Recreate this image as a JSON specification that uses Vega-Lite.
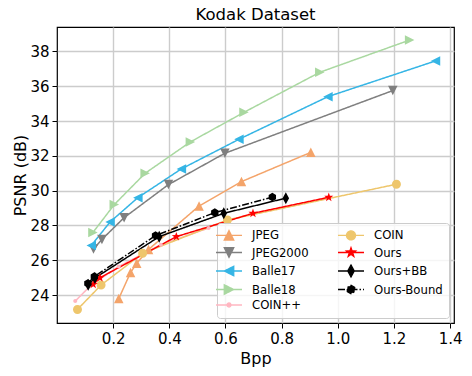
{
  "$schema": "https://vega.github.io/schema/vega-lite/v6.json",
  "autosize": "none",
  "width": 397,
  "height": 296,
  "padding": {"left": 57, "top": 27, "right": 18, "bottom": 53},
  "background": "white",
  "title": {"text": "Kodak Dataset", "fontSize": 16.5, "fontWeight": "normal", "font": "DejaVu Sans", "color": "black", "anchor": "middle", "offset": 4},
  "config": {
    "font": "DejaVu Sans",
    "view": {"stroke": "black", "strokeWidth": 1.2},
    "axis": {"domain": false, "grid": true, "gridColor": "#cccccc", "gridWidth": 1.4, "tickColor": "black", "tickSize": 5, "labelColor": "black", "titleColor": "black", "labelFontSize": 15, "titleFontSize": 16, "titleFontWeight": "normal", "labelPadding": 3, "labelFont": "DejaVu Sans", "titleFont": "DejaVu Sans"}
  },
  "data": {"values": [
    {"method": "JPEG", "bpp": 0.220, "psnr": 23.8},
    {"method": "JPEG", "bpp": 0.262, "psnr": 25.3},
    {"method": "JPEG", "bpp": 0.284, "psnr": 25.83},
    {"method": "JPEG", "bpp": 0.326, "psnr": 26.62},
    {"method": "JPEG", "bpp": 0.506, "psnr": 29.12},
    {"method": "JPEG", "bpp": 0.657, "psnr": 30.52},
    {"method": "JPEG", "bpp": 0.904, "psnr": 32.2},
    {"method": "JPEG2000", "bpp": 0.130, "psnr": 26.65},
    {"method": "JPEG2000", "bpp": 0.160, "psnr": 27.2},
    {"method": "JPEG2000", "bpp": 0.239, "psnr": 28.45},
    {"method": "JPEG2000", "bpp": 0.397, "psnr": 30.35},
    {"method": "JPEG2000", "bpp": 0.598, "psnr": 32.15},
    {"method": "JPEG2000", "bpp": 1.196, "psnr": 35.75},
    {"method": "Balle17", "bpp": 0.122, "psnr": 26.85},
    {"method": "Balle17", "bpp": 0.189, "psnr": 28.2},
    {"method": "Balle17", "bpp": 0.288, "psnr": 29.6},
    {"method": "Balle17", "bpp": 0.443, "psnr": 31.25},
    {"method": "Balle17", "bpp": 0.648, "psnr": 32.95},
    {"method": "Balle17", "bpp": 0.965, "psnr": 35.4},
    {"method": "Balle17", "bpp": 1.348, "psnr": 37.45},
    {"method": "Balle18", "bpp": 0.128, "psnr": 27.6},
    {"method": "Balle18", "bpp": 0.204, "psnr": 29.2},
    {"method": "Balle18", "bpp": 0.314, "psnr": 31.0},
    {"method": "Balle18", "bpp": 0.475, "psnr": 32.8},
    {"method": "Balle18", "bpp": 0.666, "psnr": 34.5},
    {"method": "Balle18", "bpp": 0.936, "psnr": 36.8},
    {"method": "Balle18", "bpp": 1.256, "psnr": 38.65},
    {"method": "COIN++", "bpp": 0.065, "psnr": 23.66},
    {"method": "COIN++", "bpp": 0.12, "psnr": 24.55},
    {"method": "COIN++", "bpp": 0.22, "psnr": 25.65},
    {"method": "COIN++", "bpp": 0.37, "psnr": 26.9},
    {"method": "COIN++", "bpp": 0.54, "psnr": 27.85},
    {"method": "COIN", "bpp": 0.073, "psnr": 23.18},
    {"method": "COIN", "bpp": 0.157, "psnr": 24.58},
    {"method": "COIN", "bpp": 0.305, "psnr": 26.4},
    {"method": "COIN", "bpp": 0.607, "psnr": 28.32},
    {"method": "COIN", "bpp": 1.209, "psnr": 30.37},
    {"method": "Ours", "bpp": 0.129, "psnr": 24.62},
    {"method": "Ours", "bpp": 0.153, "psnr": 25.0},
    {"method": "Ours", "bpp": 0.425, "psnr": 27.36},
    {"method": "Ours", "bpp": 0.698, "psnr": 28.7},
    {"method": "Ours", "bpp": 0.968, "psnr": 29.62},
    {"method": "Ours+BB", "bpp": 0.111, "psnr": 24.6},
    {"method": "Ours+BB", "bpp": 0.135, "psnr": 24.98},
    {"method": "Ours+BB", "bpp": 0.364, "psnr": 27.36},
    {"method": "Ours+BB", "bpp": 0.594, "psnr": 28.7},
    {"method": "Ours+BB", "bpp": 0.815, "psnr": 29.57},
    {"method": "Ours-Bound", "bpp": 0.110, "psnr": 24.67},
    {"method": "Ours-Bound", "bpp": 0.133, "psnr": 25.07},
    {"method": "Ours-Bound", "bpp": 0.351, "psnr": 27.42},
    {"method": "Ours-Bound", "bpp": 0.562, "psnr": 28.74},
    {"method": "Ours-Bound", "bpp": 0.767, "psnr": 29.63}
  ]},
  "encoding": {
    "x": {"field": "bpp", "type": "quantitative", "title": "Bpp", "scale": {"domain": [0.0, 1.414], "nice": false, "zero": false}, "axis": {"values": [0.2, 0.4, 0.6, 0.8, 1.0, 1.2, 1.4], "format": ".1f", "titlePadding": 4}},
    "y": {"field": "psnr", "type": "quantitative", "title": "PSNR (dB)", "scale": {"domain": [22.4, 39.4], "nice": false, "zero": false}, "axis": {"values": [24, 26, 28, 30, 32, 34, 36, 38], "titlePadding": 1}},
    "color": {"field": "method", "type": "nominal", "scale": {
      "domain": ["JPEG", "JPEG2000", "Balle17", "Balle18", "COIN++", "COIN", "Ours", "Ours+BB", "Ours-Bound"],
      "range": ["#f4a46a", "#7f7f7f", "#35b5e5", "#a9d8a0", "#ffb6c1", "#eec66c", "#ff0000", "#000000", "#000000"]},
      "legend": {
          "title": null, "orient": "none", "legendX": 160, "legendY": 196, "columns": 2,
          "symbolSize": 100, "labelFontSize": 11.7, "labelFont": "DejaVu Sans", "labelColor": "black",
          "labelOffset": 17, "rowPadding": 1.5, "columnPadding": 26, "padding": 6,
          "fillColor": "rgba(255,255,255,0.8)", "strokeColor": "#cccccc", "cornerRadius": 3,
          "symbolStrokeWidth": 1.3,
          "encode": {"symbols": {"update": {
            "fill": {"scale": "color", "field": "value"},
            "stroke": {"scale": "color", "field": "value"},
            "strokeWidth": {"value": 1.3},
            "opacity": {"value": 1},
            "strokeDash": [{"test": "datum.value === 'Ours-Bound'", "value": [5, 2, 1.5, 1.5]}, {"value": [1, 0]}]
          }}}
      }}
  },
  "layer": [
    {
      "mark": {"type": "line", "strokeWidth": 1.5},
      "encoding": {
        "strokeDash": {"field": "method", "type": "nominal", "legend": null, "scale": {
          "domain": ["JPEG", "JPEG2000", "Balle17", "Balle18", "COIN++", "COIN", "Ours", "Ours+BB", "Ours-Bound"],
          "range": [[1, 0], [1, 0], [1, 0], [1, 0], [1, 0], [1, 0], [1, 0], [1, 0], [7, 2, 1.5, 2]]}}
      }
    },
    {
      "mark": {"type": "point", "filled": true, "opacity": 1, "size": 100},
      "encoding": {
        "shape": {"field": "method", "type": "nominal", "scale": {
          "domain": ["JPEG", "JPEG2000", "Balle17", "Balle18", "COIN++", "COIN", "Ours", "Ours+BB", "Ours-Bound"],
          "range": [
            "M-2.6,0L2.6,0M0,-0.95L0.95,0.95L-0.95,0.95Z",
            "M-2.6,0L2.6,0M0,0.95L0.95,-0.95L-0.95,-0.95Z",
            "M-2.6,0L2.6,0M-0.95,0L0.95,-0.95L0.95,0.95Z",
            "M-2.6,0L2.6,0M0.95,0L-0.95,-0.95L-0.95,0.95Z",
            "M-2.6,0L2.6,0M0.4,0A0.4,0.4 0 1,1 -0.4,0A0.4,0.4 0 1,1 0.4,0Z",
            "M-2.6,0L2.6,0M0.9,0A0.9,0.9 0 1,1 -0.9,0A0.9,0.9 0 1,1 0.9,0Z",
            "M-2.6,0L2.6,0M0,-0.95L0.223,-0.31L0.904,-0.294L0.361,0.118L0.558,0.768L0,0.38L-0.558,0.768L-0.361,0.118L-0.904,-0.294L-0.223,-0.31Z",
            "M-2.6,0L2.6,0M0,-1.2L0.65,0L0,1.2L-0.65,0Z",
            "M-2.6,0L2.6,0M0,-0.85L0.736,-0.425L0.736,0.425L0,0.85L-0.736,0.425L-0.736,-0.425Z"
          ]}}
      }
    }
  ]
}
